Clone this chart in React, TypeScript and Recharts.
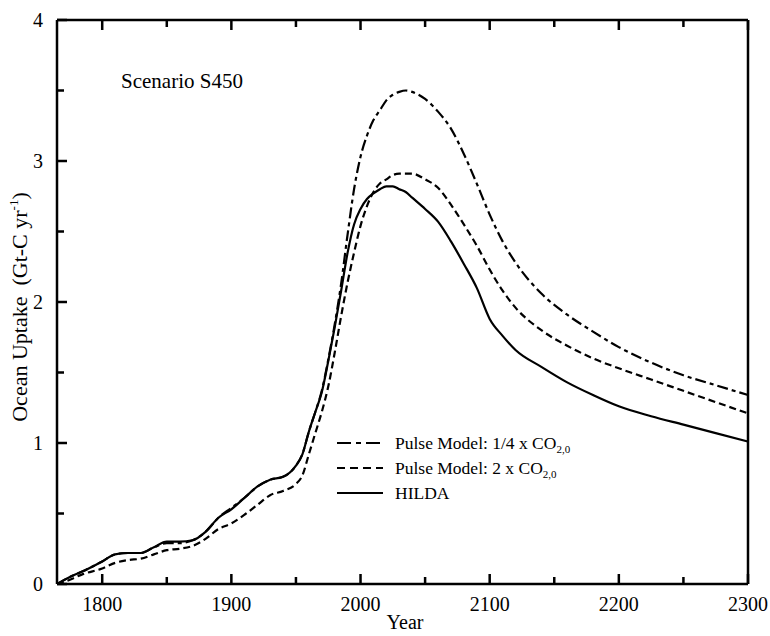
import React from "react"
import { LineChart, Line, XAxis, YAxis } from "recharts"

const years = [
  1765, 1775, 1785, 1800, 1810, 1820, 1830, 1840, 1850, 1860, 1870, 1880, 1890, 1900, 1910, 1920, 1930, 1940, 1950,
  1955, 1960, 1965, 1970, 1975, 1980, 1985, 1990, 1995, 2000, 2005, 2010, 2015, 2020, 2025, 2030, 2035, 2040, 2050,
  2060, 2070, 2080, 2090, 2100, 2110, 2120, 2140, 2160, 2180, 2200, 2225, 2250, 2275, 2300,
]

const pulseQuarter = [
  0, 0.05, 0.09, 0.16, 0.21, 0.22, 0.22, 0.26, 0.29, 0.29, 0.31, 0.37, 0.47, 0.54, 0.61, 0.69, 0.74, 0.76, 0.84,
  0.92, 1.08, 1.22, 1.37, 1.59, 1.84, 2.13, 2.48, 2.8, 3.03, 3.18, 3.29, 3.36, 3.43, 3.47, 3.49, 3.5, 3.49, 3.44,
  3.35, 3.23, 3.05, 2.84, 2.62, 2.43, 2.28, 2.06, 1.91, 1.79, 1.68, 1.57, 1.48, 1.41, 1.34,
]

const pulseDouble = [
  0, 0.03, 0.07, 0.11, 0.15, 0.17, 0.18, 0.21, 0.24, 0.25, 0.27, 0.32, 0.39, 0.43, 0.49, 0.56, 0.63, 0.66, 0.71,
  0.77, 0.92, 1.07, 1.22, 1.4, 1.64, 1.9, 2.14, 2.35, 2.54, 2.68, 2.78, 2.84, 2.87, 2.9, 2.91, 2.91, 2.91, 2.87,
  2.81, 2.69, 2.55, 2.4, 2.23, 2.08, 1.96, 1.8, 1.69, 1.6, 1.53, 1.45, 1.37, 1.29, 1.21,
]

const hilda = [
  0, 0.05, 0.09, 0.16, 0.21, 0.22, 0.22, 0.26, 0.3, 0.3, 0.31, 0.37, 0.47, 0.53, 0.61, 0.69, 0.74, 0.76, 0.84,
  0.92, 1.08, 1.22, 1.36, 1.58, 1.82, 2.08, 2.35, 2.55, 2.66, 2.73, 2.77, 2.8, 2.82, 2.82, 2.8, 2.78, 2.74, 2.66,
  2.57, 2.43, 2.27, 2.1, 1.88, 1.76, 1.66, 1.54, 1.43, 1.34, 1.26, 1.19, 1.13, 1.07, 1.01,
]

const xTicks = [1800, 1850, 1900, 1950, 2000, 2050, 2100, 2150, 2200, 2250, 2300]
const yTicks = [0, 0.5, 1, 1.5, 2, 2.5, 3, 3.5, 4]

const data = years.map((year, i) => ({
  year,
  quarter: pulseQuarter[i],
  double: pulseDouble[i],
  hilda: hilda[i],
}))

const font = "'Liberation Serif', 'Times New Roman', serif"
const W = 770
const H = 636
const MAJOR = 10
const MINOR = 7

// each tick draws its own inward mark (longer on whole values) plus the label
const BottomTick = (props: any) => {
  const { x, y, payload } = props
  const major = payload.value % 100 === 0
  const len = major ? MAJOR : MINOR
  return (
    <g>
      <rect x={x - 1.25} y={y - len} width={2.5} height={len} fill="#000" />
      {major && (
        <text x={x} y={y + 27} textAnchor="middle" fontFamily={font} fontSize={20} fill="#000">
          {payload.value}
        </text>
      )}
    </g>
  )
}

const TopTick = (props: any) => {
  const { x, y, payload } = props
  const len = payload.value % 100 === 0 ? MAJOR : MINOR
  return <rect x={x - 1.25} y={y} width={2.5} height={len} fill="#000" />
}

const LeftTick = (props: any) => {
  const { x, y, payload } = props
  const major = payload.value % 1 === 0
  const len = major ? MAJOR : MINOR
  return (
    <g>
      <rect x={x} y={y - 1.25} width={len} height={2.5} fill="#000" />
      {major && (
        <text x={x - 14} y={y + 7} textAnchor="end" fontFamily={font} fontSize={20} fill="#000">
          {payload.value}
        </text>
      )}
    </g>
  )
}

const RightTick = (props: any) => {
  const { x, y, payload } = props
  const len = payload.value % 1 === 0 ? MAJOR : MINOR
  return <rect x={x - len} y={y - 1.25} width={len} height={2.5} fill="#000" />
}

const axisStroke = { stroke: "#000", strokeWidth: 2.5 }

export default function App() {
  return (
    <div style={{ position: "absolute", left: 0, top: 0, width: W, height: H, background: "#fff" }}>
      <LineChart width={W} height={H} data={data} margin={{ top: 10, right: 12, bottom: 22, left: 27 }}>
        <XAxis
          dataKey="year"
          type="number"
          domain={[1765, 2300]}
          ticks={xTicks}
          height={30}
          tickSize={0}
          tickMargin={0}
          tickLine={false}
          tick={(p: any) => <BottomTick {...p} />}
          axisLine={axisStroke}
          interval={0}
        />
        <XAxis
          xAxisId="top"
          orientation="top"
          dataKey="year"
          type="number"
          domain={[1765, 2300]}
          ticks={xTicks}
          height={10}
          tickSize={0}
          tickMargin={0}
          tickLine={false}
          tick={(p: any) => <TopTick {...p} />}
          axisLine={axisStroke}
          interval={0}
        />
        <YAxis
          type="number"
          domain={[0, 4]}
          ticks={yTicks}
          width={30}
          tickSize={0}
          tickMargin={0}
          tickLine={false}
          tick={(p: any) => <LeftTick {...p} />}
          axisLine={axisStroke}
          interval={0}
        />
        <YAxis
          yAxisId="right"
          orientation="right"
          type="number"
          domain={[0, 4]}
          ticks={yTicks}
          width={10}
          tickSize={0}
          tickMargin={0}
          tickLine={false}
          tick={(p: any) => <RightTick {...p} />}
          axisLine={axisStroke}
          interval={0}
        />
        <Line
          type="monotone"
          dataKey="quarter"
          stroke="#000"
          strokeWidth={2.2}
          strokeDasharray="11 4 4 4"
          dot={false}
          isAnimationActive={false}
        />
        <Line
          type="monotone"
          dataKey="double"
          stroke="#000"
          strokeWidth={2.2}
          strokeDasharray="7 4"
          dot={false}
          isAnimationActive={false}
        />
        <Line type="monotone" dataKey="hilda" stroke="#000" strokeWidth={2.2} dot={false} isAnimationActive={false} />
      </LineChart>

      <svg
        width={W}
        height={H}
        style={{ position: "absolute", left: 0, top: 0, pointerEvents: "none" }}
        fontFamily={font}
        fill="#000"
      >
        <text x={121} y={88} fontSize={21}>
          Scenario S450
        </text>

        <text x={405} y={629} fontSize={20} textAnchor="middle">
          Year
        </text>

        <text transform="translate(27,307) rotate(-90)" fontSize={22} textAnchor="middle">
          Ocean Uptake{"\u00a0\u00a0"}(Gt-C yr
          <tspan fontSize={13} dy={-9}>
            -1
          </tspan>
          <tspan dy={9}>)</tspan>
        </text>

        <line x1={337} x2={383} y1={443} y2={443} stroke="#000" strokeWidth={2} strokeDasharray="14 5 5 5" />
        <text x={395} y={449} fontSize={17.5}>
          Pulse Model: 1/4 x CO
          <tspan fontSize={11} dy={4}>
            2,0
          </tspan>
        </text>

        <line x1={337} x2={383} y1={468} y2={468} stroke="#000" strokeWidth={2} strokeDasharray="8 5" />
        <text x={395} y={474} fontSize={17.5}>
          Pulse Model: 2 x CO
          <tspan fontSize={11} dy={4}>
            2,0
          </tspan>
        </text>

        <line x1={337} x2={383} y1={493} y2={493} stroke="#000" strokeWidth={2} />
        <text x={395} y={499} fontSize={17.5}>
          HILDA
        </text>
      </svg>
    </div>
  )
}
